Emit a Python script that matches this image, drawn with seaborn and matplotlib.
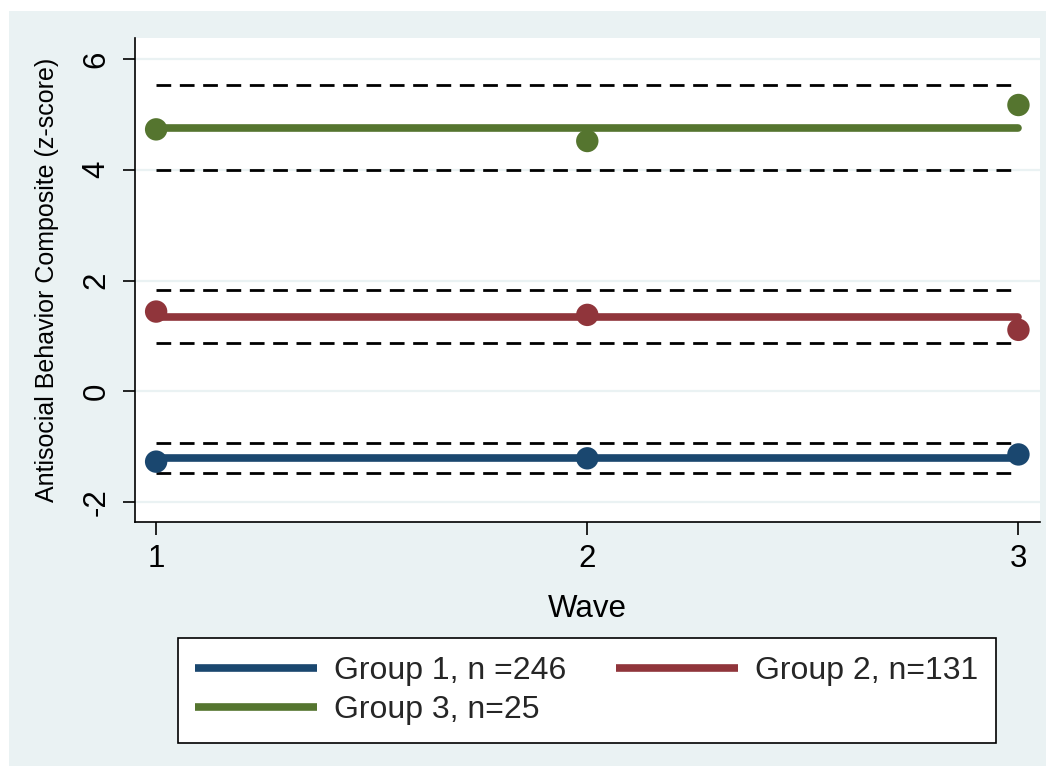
import matplotlib
matplotlib.use("Agg")
import matplotlib.pyplot as plt
from matplotlib.patches import Rectangle
import seaborn as sns
import pandas as pd

# ---- data ----
waves = [1, 2, 3]
groups = ["Group 1, n =246", "Group 2, n=131", "Group 3, n=25"]
observed_g1 = [-1.27, -1.21, -1.14]
observed_g2 = [1.44, 1.38, 1.11]
observed_g3 = [4.73, 4.52, 5.17]
fitted_g1 = [-1.21, -1.21, -1.21]
fitted_g2 = [1.35, 1.35, 1.35]
fitted_g3 = [4.76, 4.76, 4.76]
lower_g1 = [-1.47, -1.47, -1.47]
upper_g1 = [-0.94, -0.94, -0.94]
lower_g2 = [0.87, 0.87, 0.87]
upper_g2 = [1.83, 1.83, 1.83]
lower_g3 = [4.00, 4.00, 4.00]
upper_g3 = [5.53, 5.53, 5.53]
y_ticks = [-2, 0, 2, 4, 6]
x_ticks = [1, 2, 3]

colors = ["#1A476F", "#90353B", "#55752F"]
BG = "#EAF2F3"

obs = [observed_g1, observed_g2, observed_g3]
fit = [fitted_g1, fitted_g2, fitted_g3]
low = [lower_g1, lower_g2, lower_g3]
upp = [upper_g1, upper_g2, upper_g3]

rows = []
for g, o, f, lo, up in zip(groups, obs, fit, low, upp):
    for w, ov, fv, lv, uv in zip(waves, o, f, lo, up):
        rows.append(dict(group=g, wave=w, observed=ov, fitted=fv, lower=lv, upper=uv))
df = pd.DataFrame(rows)

sns.set_theme(style="white")
plt.rcParams["font.family"] = ["Liberation Sans", "DejaVu Sans"]

fig = plt.figure(figsize=(10.5, 7.73), dpi=100, facecolor="white")
fig.patches.append(Rectangle((9 / 1050, 1 - 766 / 773), (1046 - 9) / 1050, (766 - 11) / 773,
                             transform=fig.transFigure, facecolor=BG, edgecolor="none", zorder=-10))
ax = fig.add_axes([135 / 1050, 1 - 522 / 773, (1040 - 135) / 1050, (522 - 38) / 773])
ax.set_facecolor("white")

palette = dict(zip(groups, colors))

for g in groups:
    sub = df[df.group == g]
    for col in ["lower", "upper"]:
        ax.plot(sub["wave"], sub[col], color="black", lw=2.0, dashes=(5.3, 3.1), zorder=2)

sns.lineplot(data=df, x="wave", y="fitted", hue="group", palette=palette, ax=ax,
             linewidth=5.5, legend=False, zorder=3, solid_capstyle="round",
             estimator=None, sort=True)
sns.scatterplot(data=df, x="wave", y="observed", hue="group", palette=palette, ax=ax,
                s=260, edgecolor="none", legend=False, zorder=4)

ax.set_xlim(0.951, 3.05)
ax.set_ylim(-2.36, 6.38)
ax.set_yticks(y_ticks)
ax.set_xticks(x_ticks)
ax.set_yticklabels([str(t) for t in y_ticks], rotation=90, va="center")
ax.grid(axis="y", color=BG, lw=1.6)
ax.grid(axis="x", visible=False)
ax.set_axisbelow(True)

for s in ["top", "right"]:
    ax.spines[s].set_visible(False)
for s in ["left", "bottom"]:
    ax.spines[s].set_color("black")
    ax.spines[s].set_linewidth(1.2)

ax.tick_params(axis="both", which="major", direction="out", length=9, width=1.2,
               color="black", labelsize=22.5, labelcolor="black", left=True, bottom=True)
ax.tick_params(axis="y", pad=8)
ax.tick_params(axis="x", pad=7)

ax.set_xlabel("Wave", fontsize=22.5, labelpad=14, color="black")
ax.set_ylabel("Antisocial Behavior Composite (z-score)", fontsize=18, labelpad=16, color="black")

handles = [plt.Line2D([], [], color=c, lw=5.5, solid_capstyle="butt") for c in colors]
order = [0, 2, 1]
leg = fig.legend([handles[i] for i in order], [groups[i] for i in order],
                 loc="center", bbox_to_anchor=(587 / 1050, 1 - 690.5 / 773),
                 ncol=2, fontsize=23, frameon=True, fancybox=False, framealpha=1,
                 handlelength=3.8, handletextpad=0.55, columnspacing=1.56,
                 labelspacing=0.3, borderpad=0.55)
leg.get_frame().set_edgecolor("black")
leg.get_frame().set_linewidth(1.2)
leg.get_frame().set_facecolor("white")

fig.savefig("out.png", dpi=100, facecolor="white")
